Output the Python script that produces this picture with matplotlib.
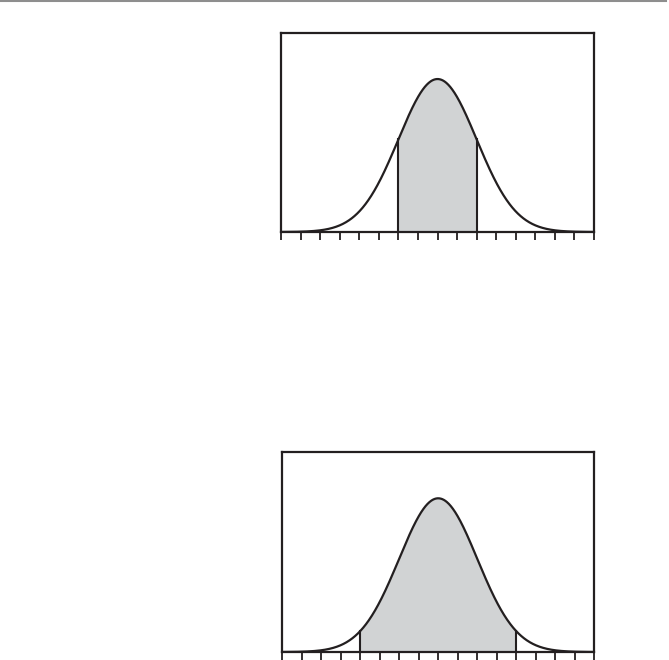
import numpy as np
import matplotlib
matplotlib.use("Agg")
import matplotlib.pyplot as plt
from matplotlib.lines import Line2D

# Distribution parameters and shaded ranges (in standard deviations)
mean = 0.0
sd = 1.0
x_range = [-4.0, 4.0]
tick_positions = [-4.0, -3.5, -3.0, -2.5, -2.0, -1.5, -1.0, -0.5, 0.0,
                  0.5, 1.0, 1.5, 2.0, 2.5, 3.0, 3.5, 4.0]
shade_top = [-1.0, 1.0]
shade_bottom = [-2.0, 2.0]

line_color = "#231f20"
fill_color = "#d1d3d4"

fig = plt.figure(figsize=(6.69, 6.60), dpi=100)

def normal_pdf(x):
    return np.exp(-0.5 * ((x - mean) / sd) ** 2) / (sd * np.sqrt(2 * np.pi))

def panel(rect, shade):
    ax = fig.add_axes(rect)
    x = np.linspace(x_range[0], x_range[1], 800)
    y = normal_pdf(x)
    xs = np.linspace(shade[0], shade[1], 400)
    ax.fill_between(xs, 0, normal_pdf(xs), color=fill_color, lw=0, zorder=1)
    ax.plot(x, y, color=line_color, lw=1.6, zorder=3)
    for b in shade:
        ax.plot([b, b], [0, normal_pdf(b)], color=line_color, lw=1.5, zorder=3)
    ax.set_xlim(x_range)
    ax.set_ylim(0, 0.519)
    ax.set_xticks(tick_positions)
    ax.set_xticklabels([])
    ax.set_yticks([])
    ax.tick_params(axis="x", direction="out", length=6, width=1.3, color=line_color)
    for s in ax.spines.values():
        s.set_linewidth(1.6)
        s.set_color(line_color)
    return ax

panel([0.4205, 0.6485, 0.467, 0.3015], shade_top)
panel([0.4215, 0.0121, 0.467, 0.3030], shade_bottom)

fig.add_artist(Line2D([0.0, 0.995], [0.9985, 0.9985], color="#8e8e8e", lw=1.5,
                      transform=fig.transFigure))

fig.savefig("out.png", dpi=100)
